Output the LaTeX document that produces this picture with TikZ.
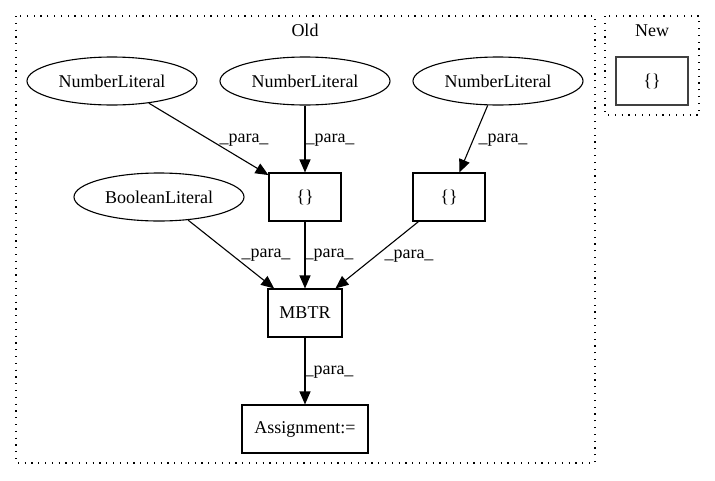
\documentclass[tikz,border=0pt]{standalone}
\usepackage{fontspec}
\setmainfont{Liberation Serif}
\usetikzlibrary{arrows.meta,shapes.geometric}
\tikzset{
  txt/.style={font=\fontsize{18}{21}\selectfont},
  lit/.style={txt,draw,line width=1.1pt,ellipse,minimum width=170pt,minimum height=48pt,inner sep=0pt},
  box/.style={txt,draw,line width=1.1pt,rectangle,minimum height=48pt,inner sep=0pt},
  cluster/.style={draw,line width=1.2pt,dash pattern=on 1.2pt off 5.6pt},
  edge/.style={draw,line width=1.1pt,-{Triangle[length=13pt,width=11pt]}},
  lbl/.style={txt,inner sep=0pt},
  ttl/.style={txt,inner sep=0pt}
}
\begin{document}
\begin{tikzpicture}[x=1pt,y=-1pt]
\useasboundingbox (0,0) rectangle (715,480);
\fill[white] (0,0) rectangle (715,480);
% clusters
\draw[cluster] (16,16) rectangle (595,463);
\node[ttl] (old) at (305,30) {Old};
\draw[cluster] (605,16) rectangle (699,115);
\node[ttl] (new) at (652,31) {New};
% nodes
\node[box,minimum width=72pt,draw=black!75] (nb) at (652,81) {\{\}};
\node[lit] (nl1) at (112,81) {NumberLiteral};
\node[lit] (nl2) at (305,81) {NumberLiteral};
\node[lit] (nl3) at (498,81) {NumberLiteral};
\node[lit] (bl) at (159,197) {BooleanLiteral};
\node[box,minimum width=72pt] (b1) at (305,197) {\{\}};
\node[box,minimum width=72pt] (b2) at (449,197) {\{\}};
\node[box,minimum width=74pt] (mbtr) at (305,313) {MBTR};
\node[box,minimum width=126pt] (asg) at (305,429) {Assignment:=};
% edges
\draw[edge] (nl1) -- (b1);
\draw[edge] (nl2) -- (b1);
\draw[edge] (nl3) -- (b2);
\draw[edge] (bl) -- (mbtr);
\draw[edge] (b1) -- (mbtr);
\draw[edge] (b2) -- (mbtr);
\draw[edge] (mbtr) -- (asg);
% labels
\node[lbl] (l1) at (244,140) {\_para\_};
\node[lbl] (l2) at (330,140) {\_para\_};
\node[lbl] (l3) at (503,140) {\_para\_};
\node[lbl] (l4) at (266,255) {\_para\_};
\node[lbl] (l5) at (329,255) {\_para\_};
\node[lbl] (l6) at (409,256) {\_para\_};
\node[lbl] (l7) at (329,372) {\_para\_};
\end{tikzpicture}
\end{document}
